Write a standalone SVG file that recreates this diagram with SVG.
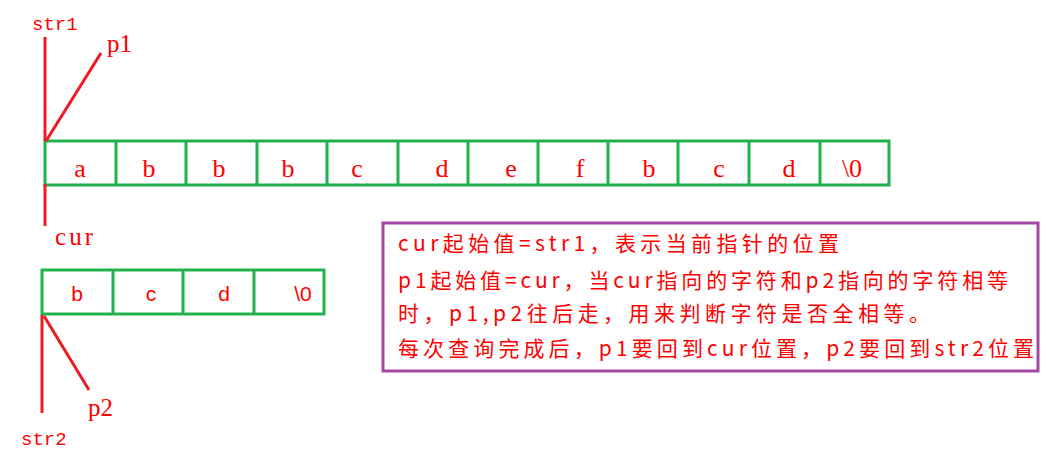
<svg xmlns="http://www.w3.org/2000/svg" width="1046" height="455" viewBox="0 0 1046 455">
<style>
.cell{fill:none;stroke:#22B14C;stroke-width:3}
.ptr{stroke:#ED1C24;stroke-width:3;fill:none}
.ch{font-family:"Liberation Serif",serif;font-size:26px;fill:#FF0000;text-anchor:middle}
.ch2{font-family:"Liberation Sans",sans-serif;font-size:21px;fill:#FF0000;text-anchor:middle}
.lbl{font-family:"Liberation Serif",serif;font-size:25px;fill:#FF0000}
.lblm{font-family:"Liberation Mono",monospace;font-size:19px;fill:#FF0000}
.note{font-family:"Noto Sans CJK SC",sans-serif;font-size:21px;fill:#FF0000}
</style>
<rect width="1046" height="455" fill="#FFFFFF"/>
<g id="str1-array">
<rect class="cell" x="45" y="141" width="844" height="44"/>
<path class="cell" d="M116 141V185M186 141V185M257 141V185M327 141V185M398 141V185M468 141V185M538 141V185M608 141V185M678 141V185M749 141V185M820 141V185"/>
<text class="ch" x="80" y="177">a</text>
<text class="ch" x="149" y="177">b</text>
<text class="ch" x="219" y="177">b</text>
<text class="ch" x="288" y="177">b</text>
<text class="ch" x="357" y="177">c</text>
<text class="ch" x="442" y="177">d</text>
<text class="ch" x="511" y="177">e</text>
<text class="ch" x="580" y="177">f</text>
<text class="ch" x="649" y="177">b</text>
<text class="ch" x="719" y="177">c</text>
<text class="ch" x="789" y="177">d</text>
<text class="ch" x="852" y="177">\0</text>
</g>
<g id="str2-array">
<rect class="cell" x="42" y="270" width="282" height="44"/>
<path class="cell" d="M113 270V314M183 270V314M254 270V314"/>
<text class="ch2" x="77" y="301">b</text>
<text class="ch2" x="151" y="301">c</text>
<text class="ch2" x="224" y="301">d</text>
<text class="ch2" x="303" y="301">\0</text>
</g>
<g id="connectors">
<line class="ptr" x1="45" y1="37" x2="45" y2="141"/>
<line class="ptr" x1="46" y1="141" x2="101" y2="53"/>
<line class="ptr" x1="45" y1="184" x2="45" y2="226"/>
<line class="ptr" x1="42" y1="315" x2="42" y2="413"/>
<line class="ptr" x1="44" y1="316" x2="89" y2="390"/>
</g>
<g id="labels">
<text class="lblm" x="32" y="30">str1</text>
<text class="lbl" x="107" y="52">p1</text>
<text class="lbl" x="55" y="245" textLength="38">cur</text>
<text class="lbl" x="88" y="416">p2</text>
<text class="lblm" x="21" y="445">str2</text>
</g>
<g id="note">
<rect x="383" y="223" width="655" height="148" fill="none" stroke="#A349A4" stroke-width="3"/>
<text class="note" x="398" y="251" textLength="441" lengthAdjust="spacing">cur起始值=str1，表示当前指针的位置</text>
<text class="note" x="398" y="288" textLength="610" lengthAdjust="spacing">p1起始值=cur，当cur指向的字符和p2指向的字符相等</text>
<text class="note" x="398" y="321" textLength="532" lengthAdjust="spacing">时，p1,p2往后走，用来判断字符是否全相等。</text>
<text class="note" x="398" y="356" textLength="636" lengthAdjust="spacing">每次查询完成后，p1要回到cur位置，p2要回到str2位置</text>
</g>
</svg>
